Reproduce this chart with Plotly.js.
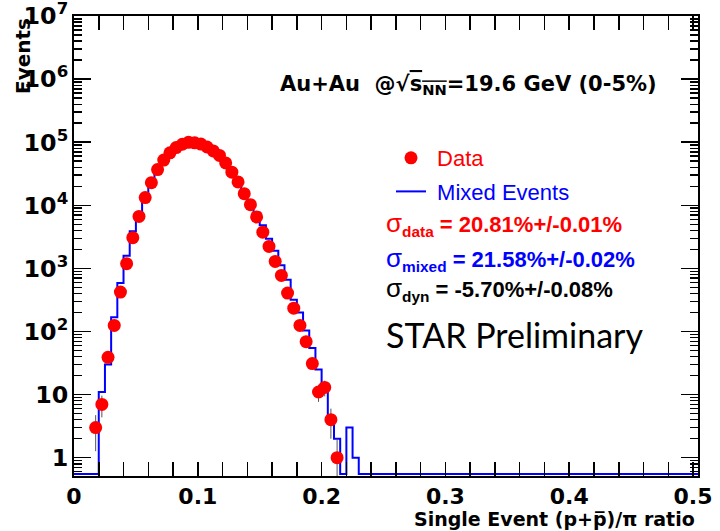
<!DOCTYPE html>
<html>
<head>
<meta charset="utf-8">
<script src="https://cdn.plot.ly/plotly-3.0.1.min.js"></script>
<style>html,body{margin:0;padding:0;background:#fff;}#chart{width:720px;height:531px;}</style>
</head>
<body>
<div id="chart"></div>
<script>
// ---- data ----
// data points: bin centres of the single-event ratio histogram
const dataX = [0.0175, 0.0225, 0.0275, 0.0325, 0.0375, 0.0425, 0.0475, 0.0525, 0.0575, 0.0625,
               0.0675, 0.0725, 0.0775, 0.0825, 0.0875, 0.0925, 0.0975, 0.1025, 0.1075, 0.1125,
               0.1175, 0.1225, 0.1275, 0.1325, 0.1375, 0.1425, 0.1475, 0.1525, 0.1575, 0.1625,
               0.1675, 0.1725, 0.1775, 0.1825, 0.1875, 0.1925, 0.1975, 0.2025, 0.2075, 0.2125];
const dataCounts = [3, 7, 39, 125, 422, 1190, 3070, 6680, 13250, 22900,
                    36900, 52100, 68000, 82400, 93000, 99500, 98000, 93500, 84000, 72900,
                    61800, 47000, 33500, 23500, 15300, 10260, 6540, 3760, 2235, 1291,
                    774, 407, 234, 125, 69, 31, 11, 13, 4, 1];
// mixed events histogram: lower bin edges and counts
const mixedEdges = [0.015, 0.020, 0.025, 0.030, 0.035, 0.040, 0.045, 0.050, 0.055, 0.060,
                    0.065, 0.070, 0.075, 0.080, 0.085, 0.090, 0.095, 0.100, 0.105, 0.110,
                    0.115, 0.120, 0.125, 0.130, 0.135, 0.140, 0.145, 0.150, 0.155, 0.160,
                    0.165, 0.170, 0.175, 0.180, 0.185, 0.190, 0.195, 0.200, 0.205, 0.210,
                    0.215, 0.220, 0.225];
const mixedCounts = [0, 11, 30, 169, 585, 1590, 3900, 7400, 13800, 23000,
                     35500, 50000, 65000, 78500, 88500, 95000, 94000, 90000, 81500, 71500,
                     61000, 48000, 35500, 25500, 17000, 11800, 7700, 4850, 2950, 1910,
                     1120, 662, 319, 200, 104, 55, 25, 13, 4, 2,
                     0, 3, 1];
const xTickVals = [0, 0.1, 0.2, 0.3, 0.4, 0.5];
const xTickText = ['0', '0.1', '0.2', '0.3', '0.4', '0.5'];

// ---- layout geometry ----
const W = 720, H = 531;
const M = {l: 74, r: 22, t: 16, b: 55};
const xRange = [0, 0.504];
const yRange = [-0.29, 7.0008];
const EMPTY = 0.55; // empty bins drawn on the floor of the log axis
const px2x = px => (px - M.l) / (W - M.l - M.r);
const py2y = py => 1 - (py - M.t) / (H - M.t - M.b);

// build step outline of mixed histogram
const binW = mixedEdges[1] - mixedEdges[0];
const stepX = [xRange[0]], stepY = [EMPTY];
mixedEdges.forEach((e, i) => { stepX.push(e); stepY.push(mixedCounts[i] > 0 ? mixedCounts[i] : EMPTY); });
stepX.push(mixedEdges[mixedEdges.length - 1] + binW); stepY.push(EMPTY);
stepX.push(xRange[1]); stepY.push(EMPTY);

const errs = dataCounts.map(v => Math.sqrt(v));

// minor tick positions (log10 of 2..9 x 10^n) for an overlaid linear axis spanning the same decades
const yMinorLog = [];
for (let n = -1; n < 7; n++) for (let d = 2; d <= 9; d++) {
  const lv = Math.log10(d * Math.pow(10, n));
  if (lv > yRange[0] && lv < yRange[1]) yMinorLog.push(lv);
}

const traces = [
  {x: [0], y: [0], type: 'scatter', mode: 'lines', yaxis: 'y2', showlegend: false, hoverinfo: 'skip', line: {width: 0}},
  {
    x: stepX, y: stepY, type: 'scatter', mode: 'lines',
    line: {shape: 'hv', color: '#0000ff', width: 2},
    name: '<span style="color:#0000ff">\u00a0Mixed Events</span>',
    legendgroup: 'b', legendrank: 2
  },
  {
    x: dataX, y: dataCounts, type: 'scatter', mode: 'markers',
    marker: {color: '#ff0000', size: 13, symbol: 'circle'},
    error_y: {type: 'data', array: errs, arrayminus: errs, color: '#555555', thickness: 1, width: 0},
    name: '<span style="color:#ff0000">\u00a0Data</span>',
    legendgroup: 'a', legendrank: 1
  }
];

const bold = (size, color, family) => ({family: family || 'DejaVu Sans', size: size, color: color || '#000', weight: 'bold'});

const layout = {
  width: W, height: H,
  margin: M,
  paper_bgcolor: '#fff', plot_bgcolor: '#fff',
  showlegend: true,
  legend: {
    x: px2x(391), y: py2y(137), xanchor: 'left', yanchor: 'top',
    bgcolor: 'rgba(0,0,0,0)', borderwidth: 0,
    font: {family: 'Liberation Sans', size: 22, color: '#000'},
    traceorder: 'grouped', tracegroupgap: 2
  },
  xaxis: {
    range: xRange, type: 'linear',
    tickmode: 'array', tickvals: xTickVals, ticktext: xTickText,
    ticks: 'inside', ticklen: 14, tickwidth: 1.5, tickcolor: '#000',
    minor: {dtick: 0.02, tick0: 0, ticks: 'inside', ticklen: 7, tickwidth: 1.5, tickcolor: '#000'},
    showline: true, linecolor: '#000', linewidth: 2, mirror: 'allticks',
    showgrid: false, zeroline: false,
    tickfont: bold(22)
  },
  yaxis: {
    type: 'log', range: yRange,
    dtick: 1, tick0: 0, exponentformat: 'power',
    ticks: 'inside', ticklen: 17, tickwidth: 1.5, tickcolor: '#000',
    showline: true, linecolor: '#000', linewidth: 2, mirror: 'allticks',
    showgrid: false, zeroline: false, ticklabeloverflow: 'allow',
    tickfont: bold(19)
  },
  yaxis2: {
    type: 'linear', range: yRange, overlaying: 'y', anchor: 'x', side: 'left',
    tickmode: 'array', tickvals: yMinorLog, showticklabels: false,
    ticks: 'inside', ticklen: 8, tickwidth: 1.5, tickcolor: '#000',
    showline: false, mirror: 'allticks', showgrid: false, zeroline: false
  },
  annotations: [
    {xref: 'paper', yref: 'paper', x: px2x(659), y: py2y(85), xanchor: 'right', yanchor: 'middle', showarrow: false,
     text: 'Au+Au\u00a0 @\u221a<span style="text-decoration:overline">s<sub>NN</sub></span>=19.6 GeV (0-5%)', font: bold(21)},
    {xref: 'paper', yref: 'paper', x: px2x(384), y: py2y(224), xanchor: 'left', yanchor: 'middle', showarrow: false,
     text: '<span style="font-weight:normal;font-size:26px">\u03c3</span><sub>data</sub> = 20.81%+/-0.01%', font: bold(22, '#ff0000', 'Liberation Sans')},
    {xref: 'paper', yref: 'paper', x: px2x(384), y: py2y(259), xanchor: 'left', yanchor: 'middle', showarrow: false,
     text: '<span style="font-weight:normal;font-size:26px">\u03c3</span><sub>mixed</sub> = 21.58%+/-0.02%', font: bold(22, '#0000ff', 'Liberation Sans')},
    {xref: 'paper', yref: 'paper', x: px2x(384), y: py2y(289), xanchor: 'left', yanchor: 'middle', showarrow: false,
     text: '<span style="font-weight:normal;font-size:26px">\u03c3</span><sub>dyn</sub> = -5.70%+/-0.08%', font: bold(22, '#000', 'Liberation Sans')},
    {xref: 'paper', yref: 'paper', x: px2x(384), y: py2y(334), xanchor: 'left', yanchor: 'middle', showarrow: false,
     text: 'STAR Preliminary', font: {family: 'Lato', size: 34, color: '#000'}},
    {xref: 'paper', yref: 'paper', x: px2x(23), y: py2y(56), xanchor: 'center', yanchor: 'middle', showarrow: false,
     textangle: -90, text: 'Events', font: bold(20)},
    {xref: 'paper', yref: 'paper', x: px2x(697), y: py2y(519), xanchor: 'right', yanchor: 'middle', showarrow: false,
     text: 'Single Event (p+p\u0305)/\u03c0 ratio', font: bold(19)}
  ]
};

Plotly.newPlot('chart', traces, layout, {staticPlot: true, displayModeBar: false});
</script>
</body>
</html>
